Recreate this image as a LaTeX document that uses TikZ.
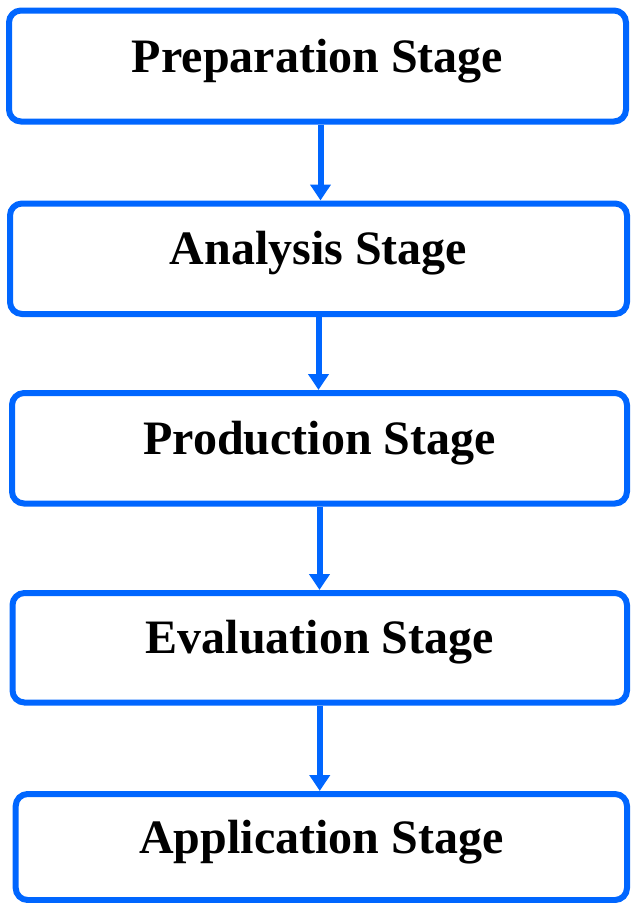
\documentclass[tikz,border=0pt]{standalone}
\usepackage{fontspec}
\setmainfont{Liberation Serif}
\usetikzlibrary{arrows.meta}
\definecolor{stageblue}{RGB}{0,102,255}
\begin{document}
\begin{tikzpicture}[
  x=1pt, y=-1pt,
  stage/.style={rectangle, rounded corners=12pt, draw=stageblue, line width=6pt,
    font=\fontsize{48}{58}\selectfont\bfseries, text height=34pt, text depth=22pt,
    inner sep=0pt},
  flow/.style={stageblue, line width=6pt, -{Triangle[width=20pt,length=16pt]}}
]
\useasboundingbox (0,0) rectangle (630,903);

% stages
\node[stage, minimum width=617pt, minimum height=111pt] (prep) at (317.5,66) {Preparation Stage};
\node[stage, minimum width=617pt, minimum height=110.5pt] (anal) at (318.5,258.75) {Analysis Stage};
\node[stage, minimum width=615pt, minimum height=110.5pt] (prod) at (319.5,448.25) {Production Stage};
\node[stage, minimum width=614.5pt, minimum height=109.5pt] (eval) at (319.75,647.75) {Evaluation Stage};
\node[stage, minimum width=611.3pt, minimum height=106pt] (appl) at (321.35,847) {Application Stage};

% arrows
\draw[flow] (prep.south) ++(3,0) coordinate (a1) -- (a1 |- anal.north);
\draw[flow] (anal.south) -- (anal.south |- prod.north);
\draw[flow] (prod.south) -- (prod.south |- eval.north);
\draw[flow] (eval.south) -- (eval.south |- appl.north);

\end{tikzpicture}
\end{document}
